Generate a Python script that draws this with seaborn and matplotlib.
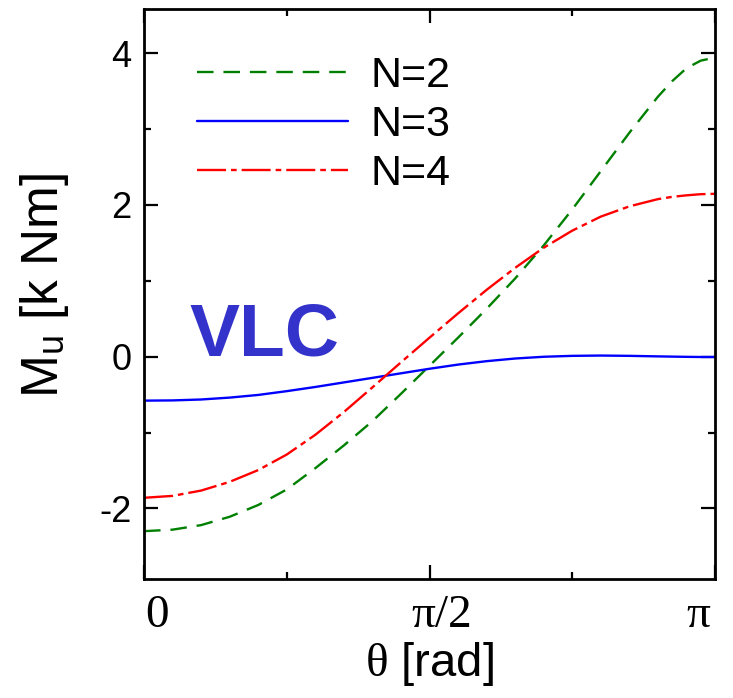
import numpy as np
import pandas as pd
import matplotlib
matplotlib.use("Agg")
import matplotlib.pyplot as plt
from matplotlib.ticker import MultipleLocator, FixedLocator
from matplotlib.transforms import ScaledTranslation
import seaborn as sns

# theta in units of pi
theta_over_pi = [0.00, 0.05, 0.10, 0.15, 0.20, 0.25, 0.30, 0.35, 0.40, 0.45, 0.50,
                 0.55, 0.60, 0.65, 0.70, 0.75, 0.80, 0.85, 0.90, 0.925, 0.95, 0.975, 1.00]

mu_n2 = [-2.30, -2.28, -2.22, -2.11, -1.955, -1.75, -1.47, -1.17, -0.85, -0.49, -0.12,
         0.25, 0.63, 1.03, 1.465, 1.94, 2.445, 2.95, 3.425, 3.63, 3.80, 3.90, 3.94]
mu_n3 = [-0.58, -0.577, -0.565, -0.54, -0.505, -0.455, -0.40, -0.34, -0.28, -0.22, -0.16,
         -0.105, -0.06, -0.025, -0.002, 0.01, 0.014, 0.01, 0.003, 0.0, -0.003, -0.005, -0.005]
mu_n4 = [-1.86, -1.835, -1.765, -1.65, -1.495, -1.29, -1.03, -0.73, -0.405, -0.075, 0.25,
         0.57, 0.88, 1.17, 1.435, 1.66, 1.845, 1.98, 2.075, 2.105, 2.125, 2.14, 2.145]

labels = ["N=2", "N=3", "N=4"]
colors = ["#008000", "#0000ff", "#ff0000"]
styles = [(0, (7.0, 4.2)), "-", (0, (12.3, 2.1, 2.4, 2.1))]

xtick_vals = [0, np.pi / 2, np.pi]
xtick_labels = ["0", "π/2", "π"]

theta = np.pi * np.array(theta_over_pi)
df = pd.DataFrame({"theta": theta, "N=2": mu_n2, "N=3": mu_n3, "N=4": mu_n4})

sns.set_theme(style="ticks")
plt.rcParams["font.family"] = ["Liberation Sans", "DejaVu Sans"]
plt.rcParams.update({
    "text.color": "black", "axes.labelcolor": "black", "axes.edgecolor": "black",
    "xtick.color": "black", "ytick.color": "black",
    "axes.unicode_minus": False,
    "axes.linewidth": 2.0,
    "xtick.direction": "in", "ytick.direction": "in",
    "xtick.top": True, "ytick.right": True,
    "xtick.major.size": 10, "ytick.major.size": 10,
    "xtick.minor.size": 5, "ytick.minor.size": 5,
    "xtick.major.width": 1.6, "ytick.major.width": 1.6,
    "xtick.minor.width": 1.6, "ytick.minor.width": 1.6,
    "mathtext.fontset": "custom",
    "mathtext.rm": "Liberation Serif",
    "mathtext.it": "Liberation Serif",
})

fig = plt.figure(figsize=(7.33, 6.98), dpi=100)
ax = fig.add_axes([0.1965, 0.1705, 0.779, 0.8166])

for lab, col, ls in zip(labels, colors, styles):
    sns.lineplot(data=df, x="theta", y=lab, ax=ax, color=col, linestyle=ls,
                 linewidth=1.7, label=lab)

ax.set_xlim(0, np.pi)
ax.set_ylim(-2.93, 4.58)

ax.xaxis.set_major_locator(FixedLocator(xtick_vals))
ax.xaxis.set_minor_locator(FixedLocator([np.pi / 4, 3 * np.pi / 4]))
ax.set_xticklabels(xtick_labels, fontfamily="Liberation Serif", fontsize=34)
ax.yaxis.set_major_locator(MultipleLocator(2))
ax.yaxis.set_minor_locator(MultipleLocator(1))
ax.tick_params(axis="y", labelsize=26, pad=9)
ax.tick_params(axis="x", pad=11)

# shift x tick labels like the original (0 and pi/2 to the right, pi to the left)
for lbl, dx in zip(ax.get_xticklabels(), [9, 9, -12]):
    lbl.set_transform(lbl.get_transform() + ScaledTranslation(dx / 72, 0, fig.dpi_scale_trans))

ax.set_ylabel(r"M$_\mathregular{u}$ [k Nm]", fontsize=37)
ax.yaxis.set_label_coords(-0.128, 0.516)
ax.set_xlabel(r"$\theta$ [rad]", fontsize=34, labelpad=2)

ax.text(0.079, 0.392, "VLC", transform=ax.transAxes, fontsize=54, fontweight="bold",
        color="#3333cc", va="baseline", ha="left")

ax.legend(loc="upper left", bbox_to_anchor=(0.048, 0.962), frameon=False, fontsize=31,
          handlelength=3.5, handletextpad=0.53, labelspacing=0.2, borderaxespad=0.2)

fig.savefig("out.png", dpi=100)
